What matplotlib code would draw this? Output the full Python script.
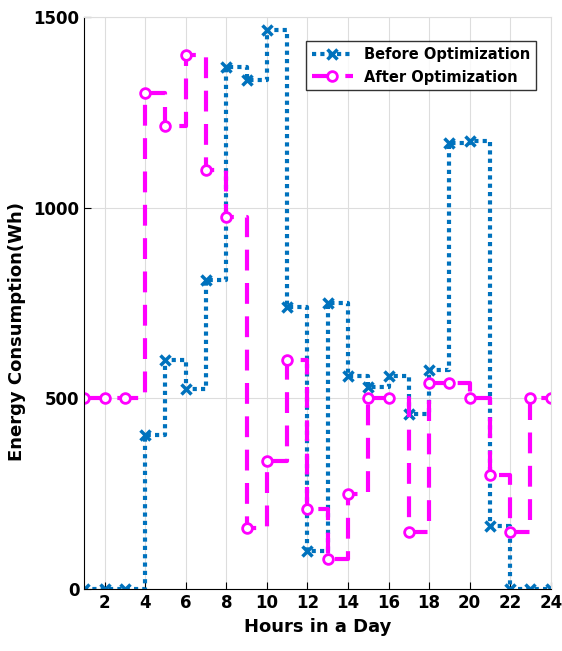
import numpy as np
import matplotlib
matplotlib.use("Agg")
import matplotlib.pyplot as plt

# hourly energy use
hours = list(range(1, 25))
before = [0, 0, 0, 405, 600, 525, 810, 1370, 1335, 1465, 740, 100,
          750, 560, 530, 560, 460, 575, 1170, 1175, 165, 0, 0, 0]
after = [500, 500, 500, 1300, 1215, 1400, 1100, 975, 160, 335, 600, 210,
         80, 250, 500, 500, 150, 540, 540, 500, 300, 150, 500, 500]

blue = "#0072BD"
magenta = "#FF00FF"

plt.rcParams["font.family"] = "DejaVu Sans"
plt.rcParams["font.weight"] = "bold"

fig = plt.figure(figsize=(5.62, 6.51), dpi=100)
ax = fig.add_axes([0.15, 0.095, 0.83, 0.879])

ax.step(hours, before, where="post", color=blue, linestyle=(0, (1, 1)), linewidth=3,
        marker="x", markersize=7, markeredgewidth=2.5, label="Before Optimization")
ax.step(hours, after, where="post", color=magenta, linestyle=(0, (5, 3)), linewidth=3,
        marker="o", markersize=7, markerfacecolor="white", markeredgewidth=2,
        label="After Optimization")

ax.set_xlim(1, 24)
ax.set_ylim(0, 1500)
ax.set_xticks(range(2, 25, 2))
ax.set_yticks([0, 500, 1000, 1500])
ax.grid(True, color="#dddddd", linewidth=0.8)
ax.set_axisbelow(True)
ax.spines["top"].set_color("#dddddd")
ax.spines["right"].set_color("#dddddd")
ax.tick_params(labelsize=12, direction="in", length=5)
for lbl in ax.get_xticklabels() + ax.get_yticklabels():
    lbl.set_fontweight("bold")

ax.set_xlabel("Hours in a Day", fontsize=13, fontweight="bold")
ax.set_ylabel("Energy Consumption(Wh)", fontsize=13, fontweight="bold")
ax.yaxis.set_label_coords(-0.125, 0.45)

leg = ax.legend(loc="upper right", fontsize=10.5, frameon=True, fancybox=False,
                edgecolor="black", handlelength=2.8, borderpad=0.4,
                bbox_to_anchor=(0.985, 0.97))
for t in leg.get_texts():
    t.set_fontweight("bold")
leg.get_frame().set_linewidth(1.0)

fig.savefig("out.png", dpi=100)
